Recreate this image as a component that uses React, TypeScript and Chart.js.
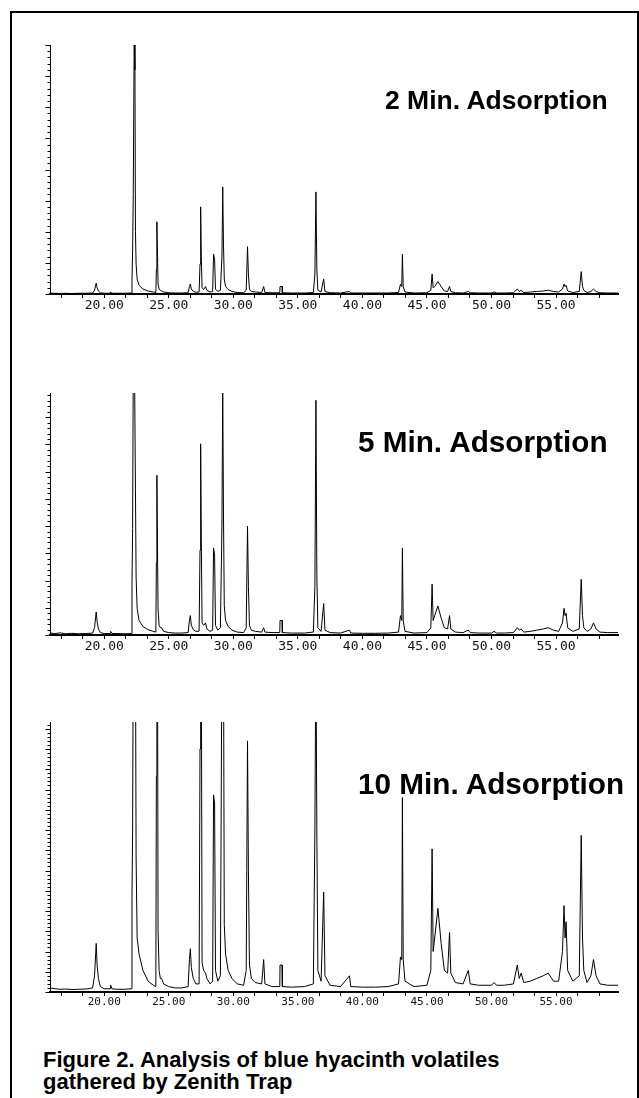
import React, { useEffect, useRef } from 'react';
import { Chart, registerables } from 'chart.js';

Chart.register(...registerables);

// Retention time (min) shared by the three runs
const retentionTimes = [
  15.8, 16.2, 16.6, 17.0, 17.5, 18.0, 18.6, 19.1, 19.25, 19.38,
  19.45, 19.55, 19.7, 20.0, 20.45, 20.5, 20.6, 21.0, 21.6, 22.1,
  22.15, 22.2, 22.25, 22.32, 22.38, 22.42, 22.47, 22.55, 22.7, 23.0,
  23.4, 23.8, 24.0, 24.04, 24.08, 24.13, 24.17, 24.25, 24.35, 24.45,
  24.6, 25.0, 25.5, 26.0, 26.5, 26.6, 26.67, 26.75, 26.9, 27.1,
  27.35, 27.42, 27.47, 27.52, 27.58, 27.7, 27.85, 27.95, 28.2, 28.4,
  28.47, 28.55, 28.62, 28.8, 29.0, 29.12, 29.18, 29.24, 29.3, 29.4,
  29.6, 29.9, 30.3, 30.8, 31.0, 31.1, 31.17, 31.25, 31.4, 31.7,
  32.2, 32.35, 32.45, 33.0, 33.6, 33.62, 33.78, 33.8, 34.5, 35.5,
  36.2, 36.32, 36.4, 36.47, 36.55, 36.8, 37.0, 37.1, 37.5, 38.3,
  39.0, 39.1, 40.0, 41.0, 42.0, 42.8, 42.95, 43.05, 43.1, 43.16,
  43.3, 44.0, 45.0, 45.3, 45.4, 45.48, 45.6, 45.85, 46.1, 46.35,
  46.6, 46.75, 46.85, 47.2, 47.8, 48.2, 48.35, 49.0, 50.0, 50.2,
  50.4, 51.0, 51.7, 52.0, 52.15, 52.3, 52.5, 53.0, 53.5, 54.0,
  54.4, 54.8, 55.2, 55.5, 55.62, 55.7, 55.78, 55.9, 56.3, 56.8,
  56.95, 57.05, 57.15, 57.4, 57.7, 57.9, 58.1, 58.4, 59.0, 59.8,
];

// Abundance, % of each panel's full scale (values above 100 run off the top)
const abundance2Min = [
  0.3, 0.3, 0.2, 0.3, 0.2, 0.3, 0.3, 0.4, 1.5, 4.4,
  2.5, 1.2, 0.5, 0.3, 0.3, 0.8, 0.3, 0.3, 0.3, 0.4,
  5, 18, 40, 101, 90, 25, 12, 6, 3.5, 2,
  1.2, 0.8, 0.6, 10, 29, 15, 4, 2, 1.5, 1.2,
  0.8, 0.5, 0.4, 0.4, 0.5, 3, 4, 2, 1, 0.7,
  0.8, 12, 35, 15, 2.5, 1.8, 3, 1.5, 0.8, 1.0,
  16, 14, 2, 1.0, 1.5, 15, 43, 20, 6, 3,
  1.8, 1.0, 0.6, 0.5, 1.5, 19, 8, 2, 1, 0.8,
  0.6, 3, 0.6, 0.5, 0.5, 3, 3, 0.5, 0.4, 0.4,
  0.6, 8, 41, 10, 1.5, 0.8, 6, 1.0, 0.5, 0.4,
  1.0, 0.4, 0.4, 0.4, 0.4, 0.6, 4, 3, 16, 3,
  0.8, 0.4, 0.5, 1.5, 8, 2.5, 3, 5, 3, 1.2,
  1.0, 3, 1.0, 0.5, 0.4, 1.0, 0.5, 0.4, 0.4, 0.8,
  0.4, 0.4, 0.5, 2, 1, 1.5, 0.6, 0.8, 1.0, 1.2,
  1.5, 1.0, 0.8, 2, 4, 3, 3.5, 1.2, 0.6, 1.0,
  9, 3, 1.5, 0.6, 1, 2, 1, 0.5, 0.4, 0.4,
];

const abundance5Min = [
  0.8, 0.6, 0.9, 0.5, 0.7, 0.5, 0.6, 0.8, 3, 9.5,
  5.5, 2.5, 1.0, 0.6, 0.6, 1.5, 0.6, 0.6, 0.5, 0.6,
  20, 44, 110, 130, 130, 60, 24, 11, 6, 3.5,
  2.2, 1.5, 1.2, 30, 66, 35, 11, 4, 3, 3,
  1.5, 1.0, 0.8, 0.8, 1.0, 6, 8, 4, 2.2, 1.5,
  1.6, 35, 79, 40, 5, 4, 5, 2.5, 1.5, 2.0,
  36, 33, 4, 2.0, 3, 45, 102, 50, 12, 6,
  3.5, 2, 1.2, 1.0, 3, 45, 20, 4, 2, 1.5,
  1.2, 3, 1.2, 1.0, 1.0, 6, 6, 1.0, 0.8, 0.8,
  1.2, 20, 97, 25, 3, 1.5, 13, 2, 1.0, 0.8,
  2, 0.8, 0.7, 0.7, 0.8, 1.2, 8, 6, 36, 6,
  1.5, 0.8, 1.0, 3, 21, 6, 8, 12, 7, 3,
  2.5, 8, 2.5, 1.2, 1.0, 2, 1.0, 0.8, 0.8, 1.5,
  0.8, 0.8, 1.0, 3, 2, 2.5, 1.2, 1.5, 2.0, 2.5,
  3, 2.0, 1.5, 5, 11, 8, 9, 3, 1.5, 2.5,
  23, 8, 3, 1.5, 2.5, 5, 2.5, 1.2, 1.0, 1.0,
];

const abundance10Min = [
  1.5, 1.2, 1.0, 1.1, 0.9, 1.0, 1.1, 1.5, 6, 18,
  10, 5, 2, 1.2, 1.2, 2.5, 1.2, 1.0, 1.0, 1.2,
  35, 60, 130, 130, 130, 130, 50, 20, 14, 8,
  4, 2.5, 2, 80, 130, 130, 23, 8, 5, 5,
  3, 2, 1.5, 1.5, 2, 12, 16, 9, 5, 3,
  3, 90, 130, 130, 11, 8, 7, 5, 3, 4,
  73, 70, 8, 4, 6, 130, 130, 130, 25, 14,
  8, 5, 3, 2.5, 8, 93, 45, 10, 5, 3.5,
  3, 12, 3, 2, 2, 10, 10, 2, 1.8, 2,
  3, 60, 130, 60, 8, 4, 37, 6, 2.5, 2,
  6, 2, 1.8, 1.8, 2, 3, 13, 12, 72, 12,
  4, 2, 2.5, 8, 53, 15, 20, 31, 18, 8,
  7, 22, 7, 3.5, 3, 8, 3, 2.5, 2.5, 3.5,
  2.5, 2.5, 3, 10, 5, 7, 3.5, 4, 5, 6,
  7, 4, 4, 15, 32, 20, 26, 8, 4, 6,
  58, 20, 8, 3.5, 6, 12, 6, 3, 2.5, 2.5,
];

const xMajorTicks = [20, 25, 30, 35, 40, 45, 50, 55];
const xTickLabels = ['20.00', '25.00', '30.00', '35.00', '40.00', '45.00', '50.00', '55.00'];
const xAllTicks = [
  16.67, 18.33, 20, 21.67, 23.33, 25, 26.67, 28.33, 30, 31.67, 33.33, 35,
  36.67, 38.33, 40, 41.67, 43.33, 45, 46.67, 48.33, 50, 51.67, 53.33, 55,
  56.67, 58.33,
];
const xRange = [15.8, 59.8];

const panelTitles = ['2 Min. Adsorption', '5 Min. Adsorption', '10 Min. Adsorption'];
const yMinorSteps = [2.5, 2.25, 1.5];
const captionLines = [
  'Figure 2. Analysis of blue hyacinth volatiles',
  'gathered by Zenith Trap',
];

const yAxisPlugin = {
  id: 'yTicks',
  afterDraw(chart: any, _args: any, opts: any) {
    const { ctx, chartArea, scales } = chart;
    const y = scales.y;
    const step = opts.step || 2.5;
    ctx.save();
    ctx.strokeStyle = '#000';
    ctx.lineWidth = 1;
    ctx.beginPath();
    const ax = Math.round(chartArea.left) + 0.5;
    ctx.moveTo(ax, chartArea.top);
    ctx.lineTo(ax, chartArea.bottom);
    for (let k = 0; k * step <= y.max + 1e-6; k++) {
      const py = Math.round(y.getPixelForValue(k * step)) + 0.5;
      const len = k % 5 === 0 ? 5 : 3;
      ctx.moveTo(ax - len, py);
      ctx.lineTo(ax, py);
    }
    ctx.stroke();
    ctx.restore();
  },
};

const AXIS_H = 22;
const PAD_TOP = 2;

function Chromatogram(props: { values: number[]; yStep: number; top: number; plotHeight: number; labelSize: number }) {
  const ref = useRef<HTMLCanvasElement>(null);
  const { values, yStep, top, plotHeight, labelSize } = props;
  const h = PAD_TOP + plotHeight + AXIS_H;
  useEffect(() => {
    if (!ref.current) return;
    const chart = new Chart(ref.current, {
      type: 'line',
      data: {
        datasets: [
          {
            data: retentionTimes.map((t, i) => ({ x: t, y: values[i] })),
            borderColor: '#000',
            borderWidth: 1,
            pointRadius: 0,
            tension: 0,
            fill: false,
          },
        ],
      },
      options: {
        animation: false,
        responsive: false,
        devicePixelRatio: 1,
        events: [],
        layout: { padding: { left: 50, right: 21, top: PAD_TOP, bottom: 0 } },
        plugins: {
          legend: { display: false },
          tooltip: { enabled: false },
          yTicks: { step: yStep },
        } as any,
        scales: {
          x: {
            type: 'linear',
            min: xRange[0],
            max: xRange[1],
            afterBuildTicks: (s: any) => {
              s.ticks = xAllTicks.map((v) => ({ value: v }));
            },
            afterFit: (s: any) => {
              s.height = AXIS_H;
            },
            ticks: {
              autoSkip: false,
              maxRotation: 0,
              minRotation: 0,
              padding: 1,
              color: '#111',
              font: { family: '"DejaVu Sans Mono", monospace', size: labelSize, lineHeight: 1 },
              callback: (v: any) => {
                const i = xMajorTicks.indexOf(Number(v));
                return i >= 0 ? xTickLabels[i] : '';
              },
            },
            grid: { display: true, drawOnChartArea: false, drawTicks: true, tickLength: 4, color: '#000', lineWidth: 1 },
            border: { display: true, color: '#000', width: 2 },
          },
          y: { type: 'linear', display: false, min: 0, max: 100 },
        },
      } as any,
      plugins: [yAxisPlugin],
    });
    return () => chart.destroy();
  }, []);
  return (
    <canvas
      ref={ref}
      width={639}
      height={h}
      style={{ position: 'absolute', left: 0, top: top - PAD_TOP, width: 639, height: h }}
    />
  );
}

const titleStyle = (left: number, top: number, size: number): React.CSSProperties => ({
  position: 'absolute',
  left,
  top,
  fontFamily: '"Liberation Sans", Arial, sans-serif',
  fontWeight: 'bold',
  fontSize: size,
  lineHeight: `${size}px`,
  color: '#000',
  whiteSpace: 'nowrap',
});

export default function App() {
  return (
    <div style={{ position: 'absolute', left: 0, top: 0, width: 639, height: 1098, background: '#fff', overflow: 'hidden' }}>
      <div
        style={{
          position: 'absolute',
          left: 10,
          top: 11,
          width: 629,
          height: 1100,
          boxSizing: 'border-box',
          borderTop: '2px solid #000',
          borderLeft: '2px solid #000',
          borderRight: '2px solid #000',
        }}
      />
      <Chromatogram values={abundance2Min} yStep={yMinorSteps[0]} top={45} plotHeight={249} labelSize={13} />
      <Chromatogram values={abundance5Min} yStep={yMinorSteps[1]} top={393} plotHeight={242} labelSize={13} />
      <Chromatogram values={abundance10Min} yStep={yMinorSteps[2]} top={722} plotHeight={270} labelSize={11} />
      <div style={titleStyle(385, 87, 26.5)}>{panelTitles[0]}</div>
      <div style={titleStyle(358, 427, 29.7)}>{panelTitles[1]}</div>
      <div style={titleStyle(358, 769, 29.7)}>{panelTitles[2]}</div>
      <div
        style={{
          position: 'absolute',
          left: 43,
          top: 1049,
          fontFamily: '"Liberation Sans", Arial, sans-serif',
          fontWeight: 'bold',
          fontSize: 22,
          lineHeight: '22px',
          color: '#000',
          whiteSpace: 'nowrap',
        }}
      >
        {captionLines.map((l, i) => (
          <div key={i}>{l}</div>
        ))}
      </div>
    </div>
  );
}
